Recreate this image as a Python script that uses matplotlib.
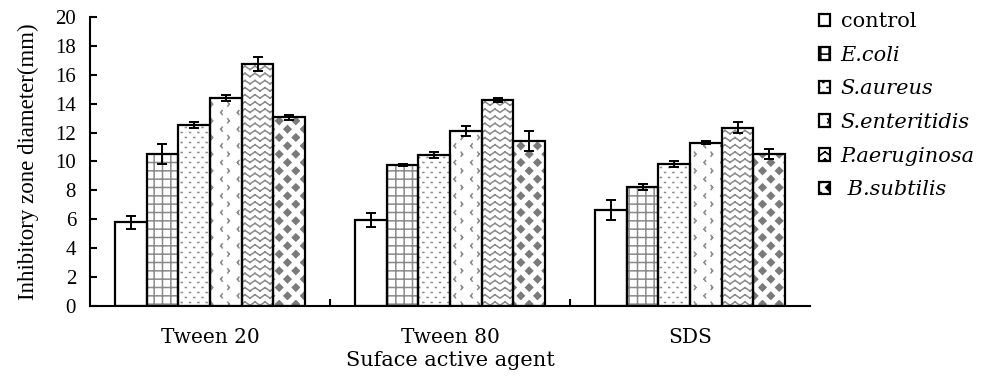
import warnings
import numpy as np
import matplotlib
matplotlib.use("Agg")
import matplotlib.pyplot as plt
import matplotlib.hatch as mhatch
from matplotlib.patches import Patch
from matplotlib.path import Path

warnings.filterwarnings("ignore")

# ----------------------------- Data -----------------------------
agents = ["Tween 20", "Tween 80", "SDS"]
strains = ["control", "E.coli", "S.aureus", "S.enteritidis", "P.aeruginosa", "B.subtilis"]

control   = [5.8, 5.95, 6.65]
e_coli    = [10.5, 9.75, 8.25]
s_aureus  = [12.5, 10.45, 9.8]
s_enter   = [14.4, 12.1, 11.3]
p_aerug   = [16.75, 14.25, 12.35]
b_subtil  = [13.05, 11.4, 10.5]

control_err  = [0.45, 0.5, 0.7]
e_coli_err   = [0.7, 0.05, 0.2]
s_aureus_err = [0.2, 0.2, 0.2]
s_enter_err  = [0.2, 0.35, 0.1]
p_aerug_err  = [0.5, 0.15, 0.4]
b_subtil_err = [0.2, 0.7, 0.35]


# ----------------------------- Custom hatches -----------------------------
class _SegHatch(mhatch.HatchPatternBase):
    """Base for hatches built from a list of point lists (open or closed)."""
    char = None

    def __init__(self, hatch, density):
        self.parts = self.build() if self.char in hatch else []
        self.num_vertices = sum(len(p) + (1 if c else 0) for p, c in self.parts)

    def set_vertices_and_codes(self, vertices, codes):
        i = 0
        for pts, closed in self.parts:
            n = len(pts)
            vertices[i:i + n] = pts
            codes[i] = Path.MOVETO
            codes[i + 1:i + n] = Path.LINETO
            i += n
            if closed:
                vertices[i] = pts[0]
                codes[i] = Path.CLOSEPOLY
                i += 1


class ZigzagHatch(_SegHatch):
    char = "z"

    def build(self):
        rows, periods, amp = 14, 10, 0.017
        parts = []
        for r in range(rows):
            y0 = (r + 0.5) / rows
            xs = np.arange(2 * periods + 1) / (2 * periods)
            ys = y0 + amp * np.where(np.arange(xs.size) % 2 == 0, -1, 1)
            for k in range(xs.size - 1):
                parts.append(([(xs[k], ys[k]), (xs[k + 1], ys[k + 1])], False))
        return parts


class ChevronHatch(_SegHatch):
    char = "v"

    def build(self):
        rows, cols, w, h = 12, 6, 0.014, 0.02
        parts = []
        for r in range(rows):
            y = (r + 0.5) / rows
            for c in range(cols):
                x = (c + 0.25 + 0.5 * (r % 2)) / cols
                s = 1 if r % 2 == 0 else -1
                parts.append(([(x + s * w, y + h), (x, y)], False))
                parts.append(([(x, y), (x + s * w, y - h)], False))
        return parts


class DotHatch(_SegHatch):
    char = "p"

    def build(self):
        rows, cols = 20, 12
        parts = []
        for r in range(rows):
            y = (r + 0.5) / rows
            for c in range(cols):
                x = (c + 0.25 + 0.5 * (r % 2)) / cols
                parts.append(([(x, y), (x + 0.009, y)], False))
        return parts


class DiamondHatch(_SegHatch):
    char = "d"

    def build(self):
        n = 12
        s = 0.42 / n
        parts = []
        for i in range(n):
            for j in range(n):
                if (i + j) % 2 == 0:
                    cx, cy = (i + 0.5) / n, (j + 0.5) / n
                    parts.append(([(cx - s, cy), (cx, cy + s), (cx + s, cy), (cx, cy - s)], True))
        return parts


mhatch._hatch_types.extend([ZigzagHatch, ChevronHatch, DotHatch, DiamondHatch])

# ----------------------------- Style -----------------------------
plt.rcParams.update({
    "font.family": "DejaVu Serif",
    "axes.linewidth": 1.5,
    "hatch.linewidth": 1.1,
})

series = [control, e_coli, s_aureus, s_enter, p_aerug, b_subtil]
errors = [control_err, e_coli_err, s_aureus_err, s_enter_err, p_aerug_err, b_subtil_err]
hatches = [None, "++", "p", "v", "z", "d"]
hatch_cols = ["white", "#8a8a8a", "#8a8a8a", "#8a8a8a", "#8a8a8a", "#7a7a7a"]

fig = plt.figure(figsize=(10.03, 3.82), dpi=100)
ax = fig.add_axes([0.0897, 0.199, 0.718, 0.7565])

x = np.arange(len(agents))
width = 0.132

for k, (vals, errs) in enumerate(zip(series, errors)):
    pos = x + (k - 2.5) * width
    if hatches[k]:
        ax.bar(pos, vals, width, color="white", edgecolor=hatch_cols[k],
               linewidth=0, hatch=hatches[k], zorder=2)
    ax.bar(pos, vals, width, fill=False, edgecolor="black", linewidth=1.6,
           yerr=errs, capsize=3.6, zorder=3,
           error_kw=dict(elinewidth=1.4, capthick=1.4, ecolor="black", zorder=4))

ax.set_xlim(-0.5, 2.5)
ax.set_ylim(0, 20)
ax.set_yticks(np.arange(0, 21, 2))
ax.set_xticks(x)
ax.set_xticklabels(agents, fontsize=14.5)
ax.set_xticks([0.5, 1.5], minor=True)
ax.tick_params(axis="x", which="major", length=0, pad=16)
ax.tick_params(axis="x", which="minor", direction="in", length=5, width=1.5)
ax.tick_params(axis="y", direction="in", length=5, width=1.5, pad=10)
for lab in ax.get_yticklabels():
    lab.set_fontfamily("Liberation Serif")
    lab.set_fontsize(15)

ax.spines["top"].set_visible(False)
ax.spines["right"].set_visible(False)

ax.set_ylabel("Inhibitory zone diameter(mm)", fontfamily="Liberation Serif",
              fontsize=16.5, labelpad=12)
ax.set_xlabel("Suface active agent", fontsize=15, labelpad=3)

handles = []
for k in range(len(strains)):
    handles.append(Patch(facecolor="white", edgecolor="black", linewidth=1.6,
                         hatch=hatches[k]))
labels = ["control", "E.coli", "S.aureus", "S.enteritidis", "P.aeruginosa", " B.subtilis"]
leg = fig.legend(handles, labels, loc="upper left", bbox_to_anchor=(0.806, 0.995),
                 frameon=False, fontsize=15, handlelength=0.55, handleheight=0.55,
                 handletextpad=0.5, labelspacing=0.70, borderpad=0)
for i, t in enumerate(leg.get_texts()):
    if i > 0:
        t.set_fontstyle("italic")

fig.savefig("out.png", dpi=100)
